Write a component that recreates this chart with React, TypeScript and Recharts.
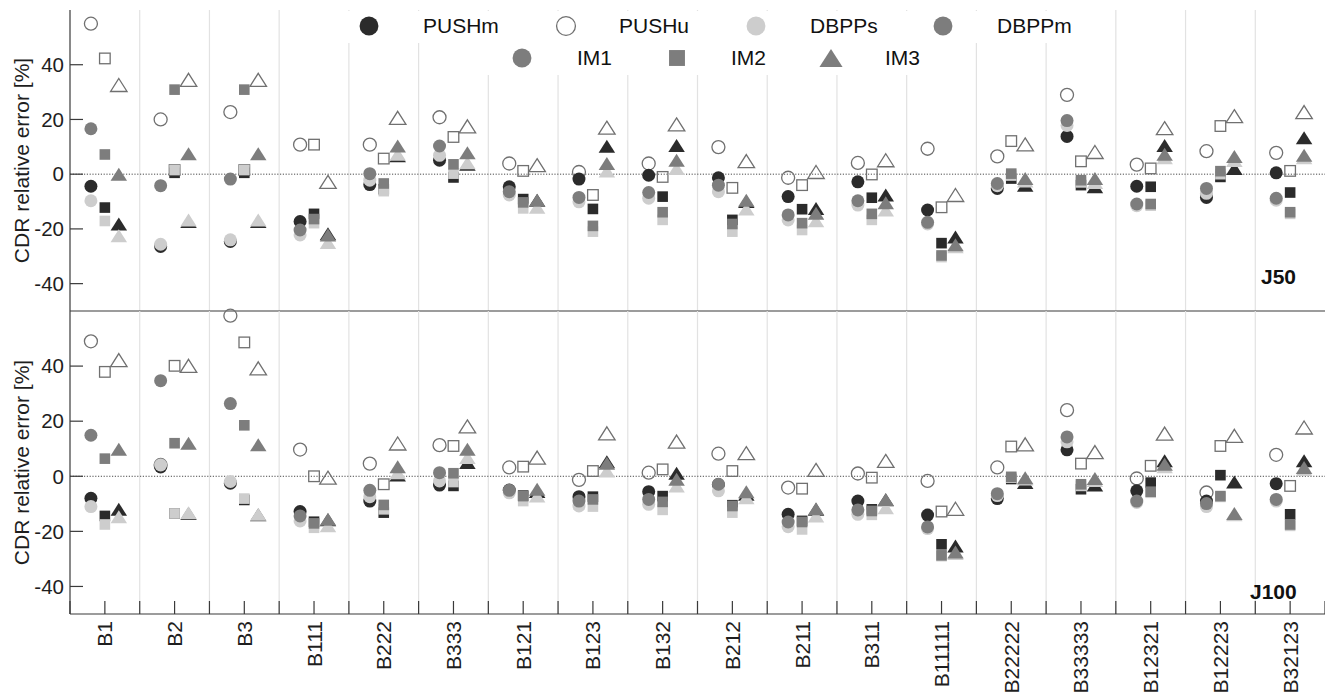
import React from 'react';
import { ScatterChart, Scatter, XAxis, YAxis, ReferenceLine, Legend } from 'recharts';

// ---------- categories & ticks ----------
const categories = ['B1', 'B2', 'B3', 'B111', 'B222', 'B333', 'B121', 'B123', 'B132', 'B212', 'B211', 'B311', 'B11111', 'B22222', 'B33333', 'B12321', 'B12223', 'B32123'];
const yTicks = [-40, -20, 0, 20, 40];
const yDomain = [-50, 60];
const boundaryTicks = [...categories.map((_, i) => i + 0.5), categories.length + 0.5];
const allXTicks = [...categories.flatMap((_, i) => [i + 0.5, i + 1]), categories.length + 0.5];
const innerBoundaries = boundaryTicks.slice(1, -1);

// ---------- J50 (top panel) ----------
const j50PushmIM1 = [-4.4, -26.4, -24.6, -17.3, -3.8, 5.1, -4.6, -1.8, -0.4, -1.3, -8.2, -2.8, -13.1, -5.2, 13.8, -4.4, -8.5, 0.5];
const j50PushmIM2 = [-12.2, 0.5, 0.5, -14.5, -5.5, -1.2, -9.1, -12.7, -8.2, -16.7, -12.8, -8.6, -25.2, -1.6, -4.0, -4.6, -1.0, -6.7];
const j50PushmIM3 = [-18.2, -17.3, -17.3, -21.8, 6.7, 3.6, -9.5, 10.2, 10.5, -10.0, -12.5, -7.6, -23.0, -4.0, -4.6, 10.5, 2.1, 13.3];

const j50PushuIM1 = [55.0, 20.0, 22.7, 10.8, 10.8, 20.8, 3.9, 0.8, 3.9, 9.9, -1.3, 4.1, 9.3, 6.5, 29.0, 3.5, 8.4, 7.8];
const j50PushuIM2 = [42.3, 1.5, 1.5, 10.8, 5.7, 13.6, 1.2, -7.6, -1.0, -5.0, -4.0, -0.1, -12.1, 12.1, 4.7, 2.1, 17.6, 1.2];
const j50PushuIM3 = [32.6, 34.5, 34.5, -2.8, 20.6, 17.5, 3.3, 17.0, 18.2, 4.8, 0.8, 5.1, -7.6, 10.9, 8.1, 16.8, 21.2, 22.7];

const j50DbppsIM1 = [-9.7, -25.6, -24.0, -22.2, -2.2, 6.9, -7.6, -10.1, -8.8, -6.4, -16.7, -11.3, -18.2, -4.2, 17.8, -11.5, -7.0, -9.5];
const j50DbppsIM2 = [-17.1, 1.5, 1.5, -17.9, -6.2, 0.2, -12.5, -21.0, -16.7, -21.0, -20.4, -16.7, -30.3, -0.5, -3.0, -11.5, 0.0, -14.5];
const j50DbppsIM3 = [-22.5, -16.7, -16.7, -25.0, 7.3, 4.2, -12.1, 1.2, 2.1, -12.7, -17.0, -13.1, -26.5, -2.5, -3.0, 6.0, 5.0, 6.0];

const j50DbppmIM1 = [16.6, -4.2, -1.8, -20.4, 0.2, 10.3, -6.4, -8.5, -6.7, -4.0, -14.9, -9.7, -17.6, -3.4, 19.6, -10.9, -5.2, -8.8];
const j50DbppmIM2 = [7.2, 30.9, 30.9, -16.4, -3.4, 3.6, -10.3, -18.9, -13.9, -18.2, -17.9, -14.5, -29.7, 0.2, -2.2, -10.9, 1.1, -13.9];
const j50DbppmIM3 = [0.0, 7.5, 7.5, -22.2, 10.3, 7.8, -9.5, 3.9, 5.1, -9.5, -14.3, -10.4, -25.8, -1.6, -1.6, 7.3, 6.5, 6.9];

// ---------- J100 (bottom panel) ----------
const j100PushmIM1 = [-8.0, 3.4, -2.5, -12.8, -9.0, -3.2, -5.0, -7.4, -5.6, -3.0, -13.8, -9.0, -14.1, -8.1, 9.6, -5.3, -9.0, -2.7];
const j100PushmIM2 = [-14.4, -13.5, -8.6, -16.5, -13.2, -3.5, -7.0, -7.4, -7.2, -10.5, -16.2, -12.0, -24.7, -1.0, -4.7, -2.3, 0.4, -13.8];
const j100PushmIM3 = [-12.0, -13.5, -14.0, -15.8, 0.5, 5.0, -5.5, 5.3, 1.1, -6.5, -12.0, -8.5, -25.3, -2.3, -3.2, 5.6, -2.1, 5.6];

const j100PushuIM1 = [49.0, 4.1, 58.3, 9.7, 4.6, 11.3, 3.2, -1.3, 1.3, 8.2, -4.1, 1.0, -1.7, 3.2, 24.0, -0.8, -5.9, 7.8];
const j100PushuIM2 = [37.9, 40.1, 48.6, 0.0, -2.9, 11.0, 3.5, 1.9, 2.5, 1.9, -4.5, -0.5, -12.8, 10.8, 4.6, 3.8, 11.0, -3.5];
const j100PushuIM3 = [42.2, 40.1, 39.2, -0.5, 11.9, 18.1, 6.8, 15.6, 12.6, 8.4, 2.3, 5.6, -11.8, 11.6, 8.8, 15.5, 14.7, 17.7];

const j100DbppsIM1 = [-11.0, 4.1, -1.9, -16.2, -7.4, -1.7, -6.0, -10.8, -10.2, -5.3, -18.3, -13.8, -19.0, -7.0, 12.5, -9.5, -11.0, -9.0];
const j100DbppsIM2 = [-17.5, -13.5, -8.1, -18.7, -12.0, -2.1, -9.0, -11.0, -12.2, -13.2, -19.3, -14.0, -29.0, -0.5, -3.5, -6.0, -7.5, -18.0];
const j100DbppsIM3 = [-14.7, -13.2, -13.8, -18.0, 1.3, 6.8, -7.2, 1.9, -3.5, -7.8, -14.4, -11.4, -28.0, -1.0, -1.5, 3.5, -14.0, 2.5];

const j100DbppmIM1 = [14.9, 34.7, 26.4, -14.4, -5.1, 1.3, -5.1, -9.0, -8.4, -2.9, -16.6, -12.2, -18.4, -6.3, 14.3, -9.0, -9.9, -8.4];
const j100DbppmIM2 = [6.4, 12.0, 18.5, -17.1, -10.4, 1.1, -7.2, -8.4, -9.3, -10.8, -16.6, -12.6, -28.7, -0.2, -2.9, -5.6, -7.2, -17.5];
const j100DbppmIM3 = [9.8, 12.0, 11.4, -15.6, 3.5, 9.8, -4.7, 4.7, -1.1, -5.6, -11.8, -8.4, -27.5, -0.5, -0.8, 4.4, -13.5, 3.2];

// ---------- styles ----------
const FONT = '"Liberation Sans", Arial, Helvetica, sans-serif';
const AXIS = '#3a3a3a';
const methodStyles: Record<string, { fill: string; stroke: string; open: boolean }> = {
  PUSHu: { fill: 'none', stroke: '#707070', open: true },
  PUSHm: { fill: '#2b2b2b', stroke: 'none', open: false },
  DBPPs: { fill: '#cdcdcd', stroke: 'none', open: false },
  DBPPm: { fill: '#7d7d7d', stroke: 'none', open: false },
};
const imDefs = [
  { key: 'IM1', shape: 'circle', offset: -0.2 },
  { key: 'IM2', shape: 'square', offset: 0 },
  { key: 'IM3', shape: 'triangle', offset: 0.2 },
];

const j50Series: Record<string, number[][]> = {
  PUSHu: [j50PushuIM1, j50PushuIM2, j50PushuIM3],
  PUSHm: [j50PushmIM1, j50PushmIM2, j50PushmIM3],
  DBPPs: [j50DbppsIM1, j50DbppsIM2, j50DbppsIM3],
  DBPPm: [j50DbppmIM1, j50DbppmIM2, j50DbppmIM3],
};
const j100Series: Record<string, number[][]> = {
  PUSHu: [j100PushuIM1, j100PushuIM2, j100PushuIM3],
  PUSHm: [j100PushmIM1, j100PushmIM2, j100PushmIM3],
  DBPPs: [j100DbppsIM1, j100DbppsIM2, j100DbppsIM3],
  DBPPm: [j100DbppmIM1, j100DbppmIM2, j100DbppmIM3],
};

function Marker({ kind, cx, cy, fill, stroke, scale = 1 }: any) {
  const sw = 1.3;
  if (kind === 'circle') {
    const r = 6.5 * scale;
    return <circle cx={cx} cy={cy} r={r} fill={fill} stroke={stroke} strokeWidth={sw} />;
  }
  if (kind === 'square') {
    const s = 10.6 * scale;
    return <rect x={cx - s / 2} y={cy - s / 2} width={s} height={s} fill={fill} stroke={stroke} strokeWidth={sw} />;
  }
  const w = 16.5 * scale;
  const h = 13 * scale;
  const pts = `${cx},${cy - h / 2} ${cx + w / 2},${cy + h / 2} ${cx - w / 2},${cy + h / 2}`;
  return <polygon points={pts} fill={fill} stroke={stroke} strokeWidth={sw} strokeLinejoin="miter" />;
}

const makeShape = (kind: string, fill: string, stroke: string) => (props: any) => {
  const { cx, cy } = props;
  if (cx == null || cy == null) return <g />;
  return <Marker kind={kind} cx={cx} cy={cy} fill={fill} stroke={stroke} />;
};

const XLabelTick = (props: any) => {
  const { x, y, payload } = props;
  const v = payload?.value;
  if (!Number.isInteger(v)) return <g />;
  const label = categories[v - 1];
  return (
    <text x={x} y={y} transform={`rotate(-90 ${x} ${y})`} textAnchor="end" dominantBaseline="central"
      fontSize={21} fontFamily={FONT} fill="#1e1e1e">{label}</text>
  );
};

const YLabel = (props: any) => {
  const vb = props.viewBox || { y: 0, height: 0 };
  const cy = vb.y + vb.height / 2;
  const cx = 21;
  return (
    <text x={cx} y={cy} transform={`rotate(-90 ${cx} ${cy})`} textAnchor="middle" dominantBaseline="central"
      fontSize={21} fontFamily={FONT} fill="#1e1e1e">CDR relative error [%]</text>
  );
};

function LegendIcon({ kind, fill, stroke, cx, cy }: any) {
  return (
    <svg style={{ position: 'absolute', left: cx - 13, top: cy - 13, overflow: 'visible' }} width={26} height={26}>
      <Marker kind={kind} cx={13} cy={13} fill={fill} stroke={stroke} scale={kind === 'triangle' ? 1.4 : kind === 'square' ? 1.5 : 1.45} />
    </svg>
  );
}

const legendRow1 = [
  { name: 'PUSHm', kind: 'circle', m: 'PUSHm', ix: 369, tx: 423 },
  { name: 'PUSHu', kind: 'circle', m: 'PUSHu', ix: 566, tx: 619 },
  { name: 'DBPPs', kind: 'circle', m: 'DBPPs', ix: 756, tx: 810 },
  { name: 'DBPPm', kind: 'circle', m: 'DBPPm', ix: 943, tx: 997 },
];
const legendRow2 = [
  { name: 'IM1', kind: 'circle', m: 'DBPPm', ix: 522, tx: 577 },
  { name: 'IM2', kind: 'square', m: 'DBPPm', ix: 677, tx: 731 },
  { name: 'IM3', kind: 'triangle', m: 'DBPPm', ix: 831, tx: 885 },
];

const LegendContent = () => {
  const row = (items: any[], cy: number) =>
    items.map((it) => {
      const st = methodStyles[it.m];
      return (
        <React.Fragment key={it.name}>
          <LegendIcon kind={it.kind} fill={st.open ? '#fff' : st.fill} stroke={st.stroke} cx={it.ix} cy={cy} />
          <div style={{ position: 'absolute', left: it.tx, top: cy - 12, lineHeight: '24px', fontSize: 21, fontFamily: FONT, color: '#111', whiteSpace: 'nowrap' }}>{it.name}</div>
        </React.Fragment>
      );
    });
  return (
    <div style={{ position: 'relative', width: 1325, height: 80 }}>
      <div style={{ position: 'absolute', left: 340, top: 11, width: 742, height: 32, background: '#fff' }} />
      <div style={{ position: 'absolute', left: 450, top: 43, width: 492, height: 32, background: '#fff' }} />
      {row(legendRow1, 26)}
      {row(legendRow2, 57.5)}
    </div>
  );
};

function renderSeries(series: Record<string, number[][]>, prefix: string) {
  const out: any[] = [];
  Object.keys(series).forEach((m) => {
    const st = methodStyles[m];
    imDefs.forEach((im, k) => {
      const data = series[m][k].map((v, i) => ({ x: i + 1 + im.offset, y: v }));
      out.push(
        <Scatter key={`${prefix}-${m}-${im.key}`} name={`${m} ${im.key}`} data={data} dataKey="y"
          shape={makeShape(im.shape, st.fill, st.stroke)} isAnimationActive={false} legendType="none" />
      );
    });
  });
  return out;
}

function Panel({ series, prefix, height, marginTop, xAxisHeight, bottomLabels, withLegend }: any) {
  return (
    <ScatterChart width={1325} height={height} margin={{ top: marginTop, right: 0, bottom: 0, left: 0 }}>
      {innerBoundaries.map((b) => (
        <ReferenceLine key={`g${b}`} x={b} stroke="#e2e2e2" strokeWidth={1.2} ifOverflow="extendDomain" />
      ))}
      <ReferenceLine y={0} stroke="#4a4a4a" strokeWidth={1} strokeDasharray="1.2 1.6" />
      <XAxis type="number" dataKey="x" domain={[0.5, categories.length + 0.5]} ticks={bottomLabels ? allXTicks : boundaryTicks}
        interval={0} height={xAxisHeight} tickSize={-13} tickMargin={20}
        axisLine={{ stroke: AXIS, strokeWidth: 1.2 }} tickLine={{ stroke: AXIS, strokeWidth: 1.2 }}
        tick={bottomLabels ? <XLabelTick /> : false} />
      <YAxis type="number" dataKey="y" domain={yDomain} ticks={yTicks} interval={0} width={70}
        tickSize={-13} tickMargin={19}
        axisLine={{ stroke: AXIS, strokeWidth: 1.2 }} tickLine={{ stroke: AXIS, strokeWidth: 1.2 }}
        tick={{ fill: '#1e1e1e', fontSize: 20.5, fontFamily: FONT }}
        label={(p: any) => <YLabel {...p} />} />
      {renderSeries(series, prefix)}
      {withLegend && (
        <Legend layout="horizontal" verticalAlign="middle" align="center" content={<LegendContent />}
          wrapperStyle={{ left: 0, top: 0, width: 1325, height: 80, position: 'absolute' }} />
      )}
    </ScatterChart>
  );
}

export default function App() {
  return (
    <div style={{ position: 'absolute', left: 0, top: 0, width: 1325, height: 693, background: '#fff', overflow: 'hidden' }}>
      <div style={{ position: 'absolute', left: 0, top: 0 }}>
        <Panel series={j50Series} prefix="j50" height={330} marginTop={10} xAxisHeight={19} bottomLabels={false} withLegend />
      </div>
      <div style={{ position: 'absolute', left: 0, top: 300 }}>
        <Panel series={j100Series} prefix="j100" height={393} marginTop={11} xAxisHeight={79} bottomLabels withLegend={false} />
      </div>
      <div style={{ position: 'absolute', left: 1261, top: 264, fontFamily: FONT, fontWeight: 'bold', fontSize: 21, lineHeight: '26px', color: '#111' }}>J50</div>
      <div style={{ position: 'absolute', left: 1250, top: 579, fontFamily: FONT, fontWeight: 'bold', fontSize: 21, lineHeight: '26px', color: '#111' }}>J100</div>
    </div>
  );
}
